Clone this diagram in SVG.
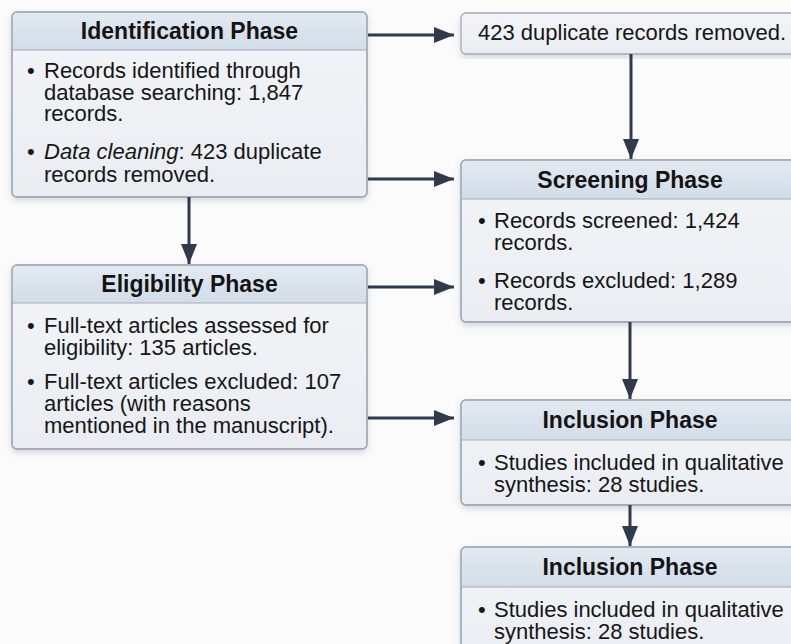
<svg xmlns="http://www.w3.org/2000/svg" width="791" height="644" viewBox="0 0 791 644">
  <defs>
    <linearGradient id="hdr" x1="0" y1="0" x2="0" y2="1">
      <stop offset="0" stop-color="#e2e9f1"/>
      <stop offset="1" stop-color="#d2dde8"/>
    </linearGradient>
    <linearGradient id="body" x1="0" y1="0" x2="0" y2="1">
      <stop offset="0" stop-color="#f3f5f8"/>
      <stop offset="1" stop-color="#e9edf1"/>
    </linearGradient>
    <filter id="shadow" x="-5%" y="-5%" width="110%" height="115%">
      <feDropShadow dx="0" dy="3" stdDeviation="3" flood-color="#6b7785" flood-opacity="0.28"/>
    </filter>
    <marker id="arrow" markerUnits="userSpaceOnUse" markerWidth="21" markerHeight="17" refX="20" refY="8" orient="auto">
      <path d="M0,0 L20,8 L0,16 Z" fill="#2f3b4b"/>
    </marker>
    <style>
      .box { fill: url(#body); stroke: #a3abb5; stroke-width: 1.3; filter: url(#shadow); }
      .hdr { fill: url(#hdr); }
      .sep { stroke: #a3abb5; stroke-width: 1.2; }
      .frame { fill: none; stroke: #a3abb5; stroke-width: 1.3; }
      .title { font-family: "Liberation Sans", Arial, sans-serif; font-weight: bold; font-size: 23px; fill: #141414; text-anchor: middle; }
      .txt { font-family: "Liberation Sans", Arial, sans-serif; font-size: 22px; fill: #161616; }
      .conn { stroke: #2f3b4b; stroke-width: 3; fill: none; marker-end: url(#arrow); }
    </style>
  </defs>

  <rect width="791" height="644" fill="#fbfbfc"/>

  <!-- Identification -->
  <g id="identification">
    <rect class="box" x="12" y="12" width="355" height="185" rx="5"/>
    <path class="hdr" d="M17,12.7 H362 A4.3,4.3 0 0 1 366.3,17 V50 H12.7 V17 A4.3,4.3 0 0 1 17,12.7 Z"/>
    <line class="sep" x1="12.6" y1="50" x2="366.4" y2="50"/>
    <rect class="frame" x="12" y="12" width="355" height="185" rx="5"/>
    <text class="title" x="189.5" y="39">Identification Phase</text>
    <text class="txt"><tspan x="27" y="78">•</tspan><tspan x="44" y="78">Records identified through</tspan><tspan x="44" y="100">database searching: 1,847</tspan><tspan x="44" y="121">records.</tspan></text>
    <text class="txt"><tspan x="27" y="159">•</tspan><tspan x="44" y="159" font-style="italic">Data cleaning</tspan><tspan>: 423 duplicate</tspan><tspan x="44" y="182">records removed.</tspan></text>
  </g>

  <!-- Duplicates removed -->
  <g id="duplicates">
    <rect class="box" x="461" y="13" width="340" height="41" rx="5"/>
    <text class="txt" x="478" y="40">423 duplicate records removed.</text>
  </g>

  <!-- Screening -->
  <g id="screening">
    <rect class="box" x="461" y="160" width="340" height="162" rx="5"/>
    <path class="hdr" d="M466,160.7 H801 V199 H461.7 V165 A4.3,4.3 0 0 1 466,160.7 Z"/>
    <line class="sep" x1="461.6" y1="199" x2="801" y2="199"/>
    <rect class="frame" x="461" y="160" width="340" height="162" rx="5"/>
    <text class="title" x="630" y="188">Screening Phase</text>
    <text class="txt"><tspan x="478" y="228">•</tspan><tspan x="494" y="228">Records screened: 1,424</tspan><tspan x="494" y="250">records.</tspan></text>
    <text class="txt"><tspan x="478" y="288">•</tspan><tspan x="494" y="288">Records excluded: 1,289</tspan><tspan x="494" y="310">records.</tspan></text>
  </g>

  <!-- Eligibility -->
  <g id="eligibility">
    <rect class="box" x="12" y="265" width="355" height="184" rx="5"/>
    <path class="hdr" d="M17,265.7 H362 A4.3,4.3 0 0 1 366.3,270 V303 H12.7 V270 A4.3,4.3 0 0 1 17,265.7 Z"/>
    <line class="sep" x1="12.6" y1="303" x2="366.4" y2="303"/>
    <rect class="frame" x="12" y="265" width="355" height="184" rx="5"/>
    <text class="title" x="189.5" y="292">Eligibility Phase</text>
    <text class="txt"><tspan x="27" y="333">•</tspan><tspan x="44" y="333">Full-text articles assessed for</tspan><tspan x="44" y="355">eligibility: 135 articles.</tspan></text>
    <text class="txt"><tspan x="27" y="389">•</tspan><tspan x="44" y="389">Full-text articles excluded: 107</tspan><tspan x="44" y="411">articles (with reasons</tspan><tspan x="44" y="433">mentioned in the manuscript).</tspan></text>
  </g>

  <!-- Inclusion (first) -->
  <g id="inclusion-1">
    <rect class="box" x="461" y="400" width="340" height="105" rx="5"/>
    <path class="hdr" d="M466,400.7 H801 V440 H461.7 V405 A4.3,4.3 0 0 1 466,400.7 Z"/>
    <line class="sep" x1="461.6" y1="440" x2="801" y2="440"/>
    <rect class="frame" x="461" y="400" width="340" height="105" rx="5"/>
    <text class="title" x="630" y="428">Inclusion Phase</text>
    <text class="txt"><tspan x="478" y="470">•</tspan><tspan x="494" y="470">Studies included in qualitative</tspan><tspan x="494" y="492">synthesis: 28 studies.</tspan></text>
  </g>

  <!-- Inclusion (second) -->
  <g id="inclusion-2">
    <rect class="box" x="461" y="547" width="340" height="110" rx="5"/>
    <path class="hdr" d="M466,547.7 H801 V587 H461.7 V552 A4.3,4.3 0 0 1 466,547.7 Z"/>
    <line class="sep" x1="461.6" y1="587" x2="801" y2="587"/>
    <rect class="frame" x="461" y="547" width="340" height="110" rx="5"/>
    <text class="title" x="630" y="575">Inclusion Phase</text>
    <text class="txt"><tspan x="478" y="617">•</tspan><tspan x="494" y="617">Studies included in qualitative</tspan><tspan x="494" y="639">synthesis: 28 studies.</tspan></text>
  </g>

  <!-- Connectors -->
  <g id="connectors">
    <line class="conn" x1="368" y1="35" x2="454" y2="35"/>
    <line class="conn" x1="368" y1="179" x2="454" y2="179"/>
    <line class="conn" x1="368" y1="287" x2="454" y2="287"/>
    <line class="conn" x1="368" y1="418" x2="454" y2="418"/>
    <line class="conn" x1="189" y1="197" x2="189" y2="264"/>
    <line class="conn" x1="631" y1="54" x2="631" y2="159"/>
    <line class="conn" x1="630" y1="322" x2="630" y2="399"/>
    <line class="conn" x1="630" y1="505" x2="630" y2="546"/>
  </g>
</svg>
